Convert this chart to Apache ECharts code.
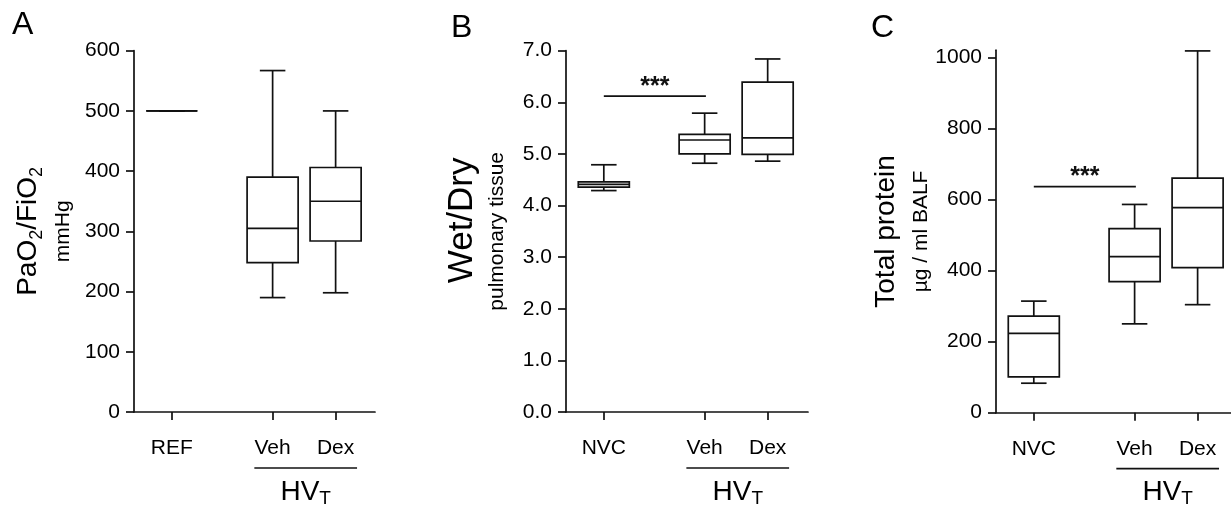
<!DOCTYPE html>
<html><head><meta charset="utf-8">
<script src="https://cdn.jsdelivr.net/npm/echarts@6/dist/echarts.min.js"></script>
<style>html,body{margin:0;padding:0;background:#fff}#c{width:1231px;height:505px}</style>
</head><body><div id="c"></div>
<script>
// ---------------- data ----------------
const catA = ['REF', 'Veh', 'Dex'];
const catB = ['NVC', 'Veh', 'Dex'];
const catC = ['NVC', 'Veh', 'Dex'];
// each box: [min, q1, median, q3, max]
const boxA = [[500, 500, 500, 500, 500], [190, 248, 305, 390, 567], [198, 284, 350, 406, 500]];
const boxB = [[4.29, 4.355, 4.41, 4.46, 4.79], [4.82, 5.0, 5.27, 5.38, 5.79], [4.86, 4.99, 5.31, 6.39, 6.84]];
const boxC = [[83, 101, 223, 272, 314], [250, 369, 439, 518, 586], [304, 408, 577, 660, 1018]];
const ticksA = [0, 100, 200, 300, 400, 500, 600];
const ticksB = [0, 1, 2, 3, 4, 5, 6, 7];
const ticksC = [0, 200, 400, 600, 800, 1000];
const sigB = 6.12;   // *** bar height, panel B
const sigC = 636;    // *** bar height, panel C
const sigText = '***';
const groupLabel = 'HV';
const groupSub = 'T';

// ---------------- layout / style ----------------
const slots = [1, 2.6, 3.6];          // x positions of the three groups
const sigSpan = [1, 2.62];            // *** bar from group 1 to group 2
const groupSpan = [2.31, 3.94];       // HV_T bracket under Veh/Dex
const BOX_W = 0.81;
const INK = '#111';
const LW = 1.7;
const FONT = '"Liberation Sans", Arial, Helvetica, sans-serif';

function boxItem(params, api) {
  const x = api.value(0);
  const p = [1, 2, 3, 4, 5].map(k => api.coord([x, api.value(k)]));
  const cx = p[0][0];
  const hw = api.size([BOX_W, 0])[0] / 2;
  const cw = hw / 2;
  const st = { stroke: INK, lineWidth: LW, fill: 'transparent' };
  const ln = (x1, y1, x2, y2) => ({ type: 'line', shape: { x1, y1, x2, y2 }, style: st });
  return {
    type: 'group', children: [
      { type: 'rect', shape: { x: cx - hw, y: p[3][1], width: 2 * hw, height: p[1][1] - p[3][1] }, style: st },
      ln(cx - hw, p[2][1], cx + hw, p[2][1]),
      ln(cx, p[3][1], cx, p[4][1]),
      ln(cx, p[1][1], cx, p[0][1]),
      ln(cx - cw, p[4][1], cx + cw, p[4][1]),
      ln(cx - cw, p[0][1], cx + cw, p[0][1])
    ]
  };
}
function sigItem(params, api) {
  const a = api.coord([api.value(0), api.value(2)]);
  const b = api.coord([api.value(1), api.value(2)]);
  return {
    type: 'group', children: [
      { type: 'line', shape: { x1: a[0], y1: a[1], x2: b[0], y2: b[1] }, style: { stroke: INK, lineWidth: LW } },
      { type: 'text', x: (a[0] + b[0]) / 2, y: a[1] + 3, style: { text: sigText, fontSize: 25, fontWeight: 'bold', fontFamily: FONT, fill: INK, align: 'center', verticalAlign: 'bottom' } }
    ]
  };
}
function groupItem(params, api) {
  const a = api.coord([api.value(0), 0]);
  const b = api.coord([api.value(1), 0]);
  const y = a[1] + 56;
  return {
    type: 'group', children: [
      { type: 'line', shape: { x1: a[0], y1: y, x2: b[0], y2: y }, style: { stroke: INK, lineWidth: LW } },
      { type: 'text', x: (a[0] + b[0]) / 2, y: y + 8, style: {
        text: '{a|' + groupLabel + '}{b|' + groupSub + '}', align: 'center', verticalAlign: 'top',
        rich: { a: { fontSize: 28, fontFamily: FONT, fill: '#000', lineHeight: 32, verticalAlign: 'middle' },
                b: { fontSize: 19, fontFamily: FONT, fill: '#000', lineHeight: 32, verticalAlign: 'bottom' } } } }
    ]
  };
}

function xAxis(idx, cats, max) {
  return {
    type: 'value', gridIndex: idx, min: 0.4, max: max,
    splitLine: { show: false },
    axisLine: { show: true, lineStyle: { color: INK, width: 1.7 } },
    axisTick: { show: true, length: 8, customValues: slots, lineStyle: { color: INK, width: 1.7 } },
    axisLabel: { customValues: slots, margin: 26, fontSize: 21, color: '#000', fontFamily: FONT,
      formatter: v => { let best = 0; slots.forEach((s, i) => { if (Math.abs(s - v) < Math.abs(slots[best] - v)) best = i; }); return cats[best]; } }
  };
}
function yAxis(idx, min, max, ticks, fmt, name, gap, big, shift) {
  return {
    type: 'value', gridIndex: idx, min, max,
    splitLine: { show: false },
    axisLine: { show: true, lineStyle: { color: INK, width: 1.7 } },
    axisTick: { show: true, length: 8, customValues: ticks, lineStyle: { color: INK, width: 1.7 } },
    axisLabel: { customValues: ticks, margin: 14, fontSize: 21, color: '#000', fontFamily: FONT, formatter: fmt },
    name, nameLocation: 'middle', nameRotate: 90, nameGap: gap,
    nameTextStyle: {
      rich: {
        t: { fontSize: big, fontFamily: FONT, color: '#000', lineHeight: 36, verticalAlign: 'middle', padding: [0, 0, 0, shift] },
        s: { fontSize: 18, fontFamily: FONT, color: '#000', lineHeight: 36, verticalAlign: 'bottom' },
        u: { fontSize: 21, fontFamily: FONT, color: '#000', lineHeight: 34 }
      }
    }
  };
}

const chart = echarts.init(document.getElementById('c'), null, { renderer: 'canvas' });
const letterStyle = { fontSize: 32, fontWeight: 'normal', fontFamily: FONT, color: '#000' };
chart.setOption({
  animation: false,
  backgroundColor: '#fff',
  title: [
    { text: 'A', left: 7, top: 4, textStyle: letterStyle },
    { text: 'B', left: 446, top: 7, textStyle: letterStyle },
    { text: 'C', left: 866, top: 7, textStyle: letterStyle }
  ],
  grid: [
    { left: 134, top: 50.7, width: 241, height: 361.3, outerBoundsMode: 'none' },
    { left: 566, top: 50.7, width: 242, height: 361.3, outerBoundsMode: 'none' },
    { left: 996, top: 50.2, width: 235, height: 362.5, outerBoundsMode: 'none' }
  ],
  xAxis: [xAxis(0, catA, 4.225), xAxis(1, catB, 4.24), xAxis(2, catC, 4.13)],
  yAxis: [
    yAxis(0, 0, 600, ticksA, v => String(v), '{t|PaO}{s|2}{t|/FiO}{s|2}\n{u|mmHg}', 54, 28, 0),
    yAxis(1, 0, 7, ticksB, v => v.toFixed(1), '{t|Wet/Dry}\n{u|pulmonary tissue}', 52, 35, 22),
    yAxis(2, 0, 1020, ticksC, v => String(v), '{t|Total protein}\n{u|µg / ml BALF}', 56, 28, 0)
  ],
  series: [
    { type: 'custom', xAxisIndex: 0, yAxisIndex: 0, renderItem: boxItem, encode: { x: 0, y: [1, 2, 3, 4, 5] }, data: boxA.map((b, i) => [slots[i], ...b]) },
    { type: 'custom', xAxisIndex: 1, yAxisIndex: 1, renderItem: boxItem, encode: { x: 0, y: [1, 2, 3, 4, 5] }, data: boxB.map((b, i) => [slots[i], ...b]) },
    { type: 'custom', xAxisIndex: 2, yAxisIndex: 2, renderItem: boxItem, encode: { x: 0, y: [1, 2, 3, 4, 5] }, data: boxC.map((b, i) => [slots[i], ...b]) },
    { type: 'custom', xAxisIndex: 1, yAxisIndex: 1, renderItem: sigItem, encode: { x: [0, 1], y: 2 }, data: [[sigSpan[0], sigSpan[1], sigB]] },
    { type: 'custom', xAxisIndex: 2, yAxisIndex: 2, renderItem: sigItem, encode: { x: [0, 1], y: 2 }, data: [[sigSpan[0], sigSpan[1], sigC]] },
    { type: 'custom', xAxisIndex: 0, yAxisIndex: 0, renderItem: groupItem, clip: false, encode: { x: [0, 1] }, data: [groupSpan] },
    { type: 'custom', xAxisIndex: 1, yAxisIndex: 1, renderItem: groupItem, clip: false, encode: { x: [0, 1] }, data: [groupSpan] },
    { type: 'custom', xAxisIndex: 2, yAxisIndex: 2, renderItem: groupItem, clip: false, encode: { x: [0, 1] }, data: [groupSpan] }
  ]
});
</script></body></html>
